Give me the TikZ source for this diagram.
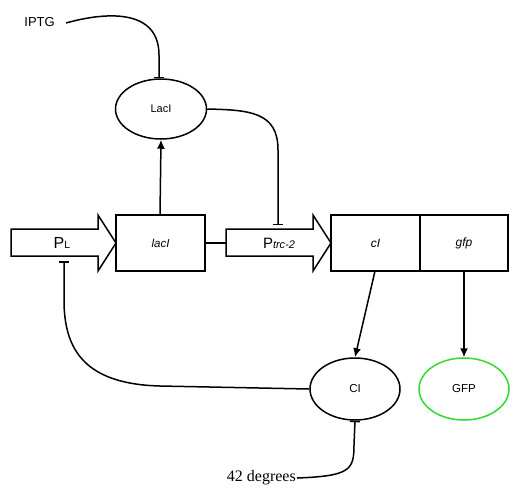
\documentclass[tikz,border=0pt]{standalone}
\usepackage{fontspec}
\setmainfont{Liberation Sans}
\newfontfamily\timesfont{Liberation Serif}
\usetikzlibrary{arrows.meta,shapes.geometric}
\definecolor{gfpgreen}{RGB}{45,220,45}
\tikzset{
  ln/.style={line width=1.5pt},
  boxnode/.style={draw,line width=1.5pt,minimum height=56pt,inner sep=0pt},
  prot/.style={draw,ellipse,line width=1.5pt,inner sep=0pt},
  act/.style={ln,-{Latex[length=9pt,width=8pt]}},
  inh/.style={ln,-{Bar[width=10pt]}},
}
\begin{document}
\begin{tikzpicture}[x=1pt,y=-1pt]
\useasboundingbox (0,0) rectangle (521,496);
% promoter arrows
\draw[ln,line join=miter] (11,229) -- (98,229) -- (98,215) -- (116,243) -- (98,271) -- (98,256) -- (11,256) -- cycle;
\draw[ln,line join=miter] (226,229) -- (313,229) -- (313,215) -- (331,243) -- (313,271) -- (313,256) -- (226,256) -- cycle;
\node (PL) at (62,243) {\fontsize{16}{18}\selectfont P\fontsize{10.5}{12}\selectfont L};
\node (Ptrc) at (279,243) {\fontsize{15}{18}\selectfont P\fontsize{11}{12}\selectfont\itshape trc-2};
\coordinate (PLbot) at (64,261);
\coordinate (Ptrctop) at (278,225);
% genes
\node[boxnode,minimum width=89pt] (lacI) at (160.5,243) {\fontsize{11.5}{13}\selectfont\itshape lacI};
\node[boxnode,minimum width=89pt] (cI) at (375.5,243) {\fontsize{12}{13}\selectfont\itshape cI};
\node[boxnode,minimum width=88pt] (gfp) at (464,243) {\fontsize{12}{13}\selectfont\itshape gfp};
% proteins
\node[prot,minimum width=91pt,minimum height=60pt] (LacI) at (161,109) {\fontsize{11}{13}\selectfont LacI};
\node[prot,minimum width=90pt,minimum height=62pt] (CI) at (355,389) {\fontsize{11.5}{13}\selectfont CI};
\node[prot,draw=gfpgreen,minimum width=90pt,minimum height=62pt] (GFP) at (464,389) {\fontsize{11.5}{13}\selectfont GFP};
% inputs
\node[anchor=east,inner sep=1pt] (IPTG) at (56,22) {\fontsize{13}{15}\selectfont IPTG};
\coordinate (IPTGstart) at (66,23);
\node[anchor=east,inner sep=1pt] (deg) at (297,478) {\timesfont\fontsize{16}{18}\selectfont 42 degrees};
% connectors
\draw[ln] (lacI.east) -- (226,243);
\draw[act] (160,215) -- (LacI.south);
\draw[inh] (IPTGstart) .. controls (105,12) and (159,8) .. (159,55) -- (159,78);
\draw[inh] (LacI.east) .. controls (250,110) and (278,112) .. (278,150) -- (Ptrctop);
\draw[act] (375,271) -- (CI.north);
\draw[act] (gfp.south) -- (GFP.north);
\draw[inh] (CI.west) -- (160,386) .. controls (85,384) and (64,350) .. (64,300) -- (PLbot);
\draw[inh] (deg.east) .. controls (350,476) and (354,470) .. (354,445) -- (CI.south);
\end{tikzpicture}
\end{document}
